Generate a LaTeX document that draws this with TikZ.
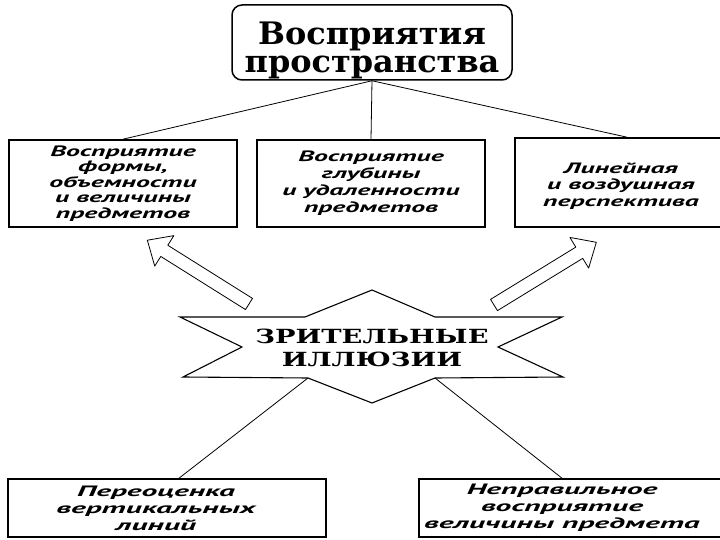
\documentclass[tikz,border=0pt]{standalone}
\usepackage{fontspec}
\usetikzlibrary{calc}
\newfontfamily\boxfont{PT Sans}[FakeStretch=1.85]
\newfontfamily\bboxfont{PT Sans}[FakeStretch=2.1]
\newfontfamily\headfont{DejaVu Serif}[FakeStretch=1.03]
\newfontfamily\starfont{DejaVu Serif}[FakeStretch=1.4]
\begin{document}
\begin{tikzpicture}[x=1pt,y=-1pt,
  box/.style={draw, line width=1.6pt, inner sep=0pt, align=center},
  midtext/.style={font=\boxfont\bfseries\itshape\fontsize{15}{#1}\selectfont},
  bottext/.style={align=center, inner sep=0pt, font=\bboxfont\bfseries\itshape\fontsize{15}{17}\selectfont},
  conn/.style={line width=0.8pt},
  blockarrow/.style={draw, line width=0.8pt, fill=white, line join=round}]
\useasboundingbox (0,0) rectangle (720,540);
% top
\node[draw, rounded corners=10pt, line width=1.5pt, minimum width=280pt, minimum height=75pt,
  inner sep=0pt] (top) at (372,42.5) {};
\node[align=center, inner sep=0pt, font=\headfont\bfseries\fontsize{31}{28}\selectfont]
  (toptext) at (372,50) {Восприятия\\пространства};
% middle row
\node[box, minimum width=228pt, minimum height=87pt, midtext=15.5] (lbox) at (123,183.5)
  {Восприятие\\формы,\\объемности\\и величины\\предметов};
\node[box, minimum width=228pt, minimum height=87pt, midtext=17] (mbox) at (371,183.5)
  {Восприятие\\глубины\\и удаленности\\предметов};
\node[box, minimum width=207pt, minimum height=89pt] (rbox) at (618.5,182.5) {};
\node[align=center, inner sep=0pt, midtext=16.5] (rtext) at (621,186)
  {Линейная\\и воздушная\\перспектива};
\draw[conn] (top.south) -- (lbox.north);
\draw[conn] (top.south) -- (mbox.north);
\draw[conn] (top.south) -- ($(rbox.north)+(8.5,0)$);
% star
\draw[line width=1.1pt, line join=miter]
  (180,317) -- (305,317) -- (372,290) -- (435,317) -- (562,317) -- (498,347)
  -- (563,377) -- (435,378) -- (372,403) -- (308,378) -- (183,377) -- (242,347) -- cycle;
\coordinate (sl) at (308,378);
\coordinate (sr) at (435,378);
\node[align=center, inner sep=0pt, font=\starfont\bfseries\fontsize{19.5}{23}\selectfont]
  (star) at (372,348) {ЗРИТЕЛЬНЫЕ\\ИЛЛЮЗИИ};
% bottom
\node[box, minimum width=318pt, minimum height=58pt] (blbox) at (167,508) {};
\node[bottext] (bltext) at (156,508) {Переоценка\\вертикальных\\линий};
\node[box, minimum width=303pt, minimum height=58pt] (brbox) at (570.5,508) {};
\node[bottext] (brtext) at (562,508) {Неправильное\\восприятие\\величины предмета};
\draw[conn] (sl) -- ($(blbox.north)+(12,0)$);
\draw[conn] (sr) -- ($(brbox.north)+(-8.5,0)$);
% block arrows
\begin{scope}[shift={(249,304)}, rotate=147.9]
  \draw[blockarrow] (0,6.6) -- (100,6.6) -- (100,18) -- (120,0) -- (100,-18) -- (100,-6.6) -- (0,-6.6) -- cycle;
\end{scope}
\begin{scope}[shift={(494,305)}, rotate=31.5]
  \draw[blockarrow] (0,6.6) -- (100,6.6) -- (100,18) -- (120,0) -- (100,-18) -- (100,-6.6) -- (0,-6.6) -- cycle;
\end{scope}
\end{tikzpicture}
\end{document}
